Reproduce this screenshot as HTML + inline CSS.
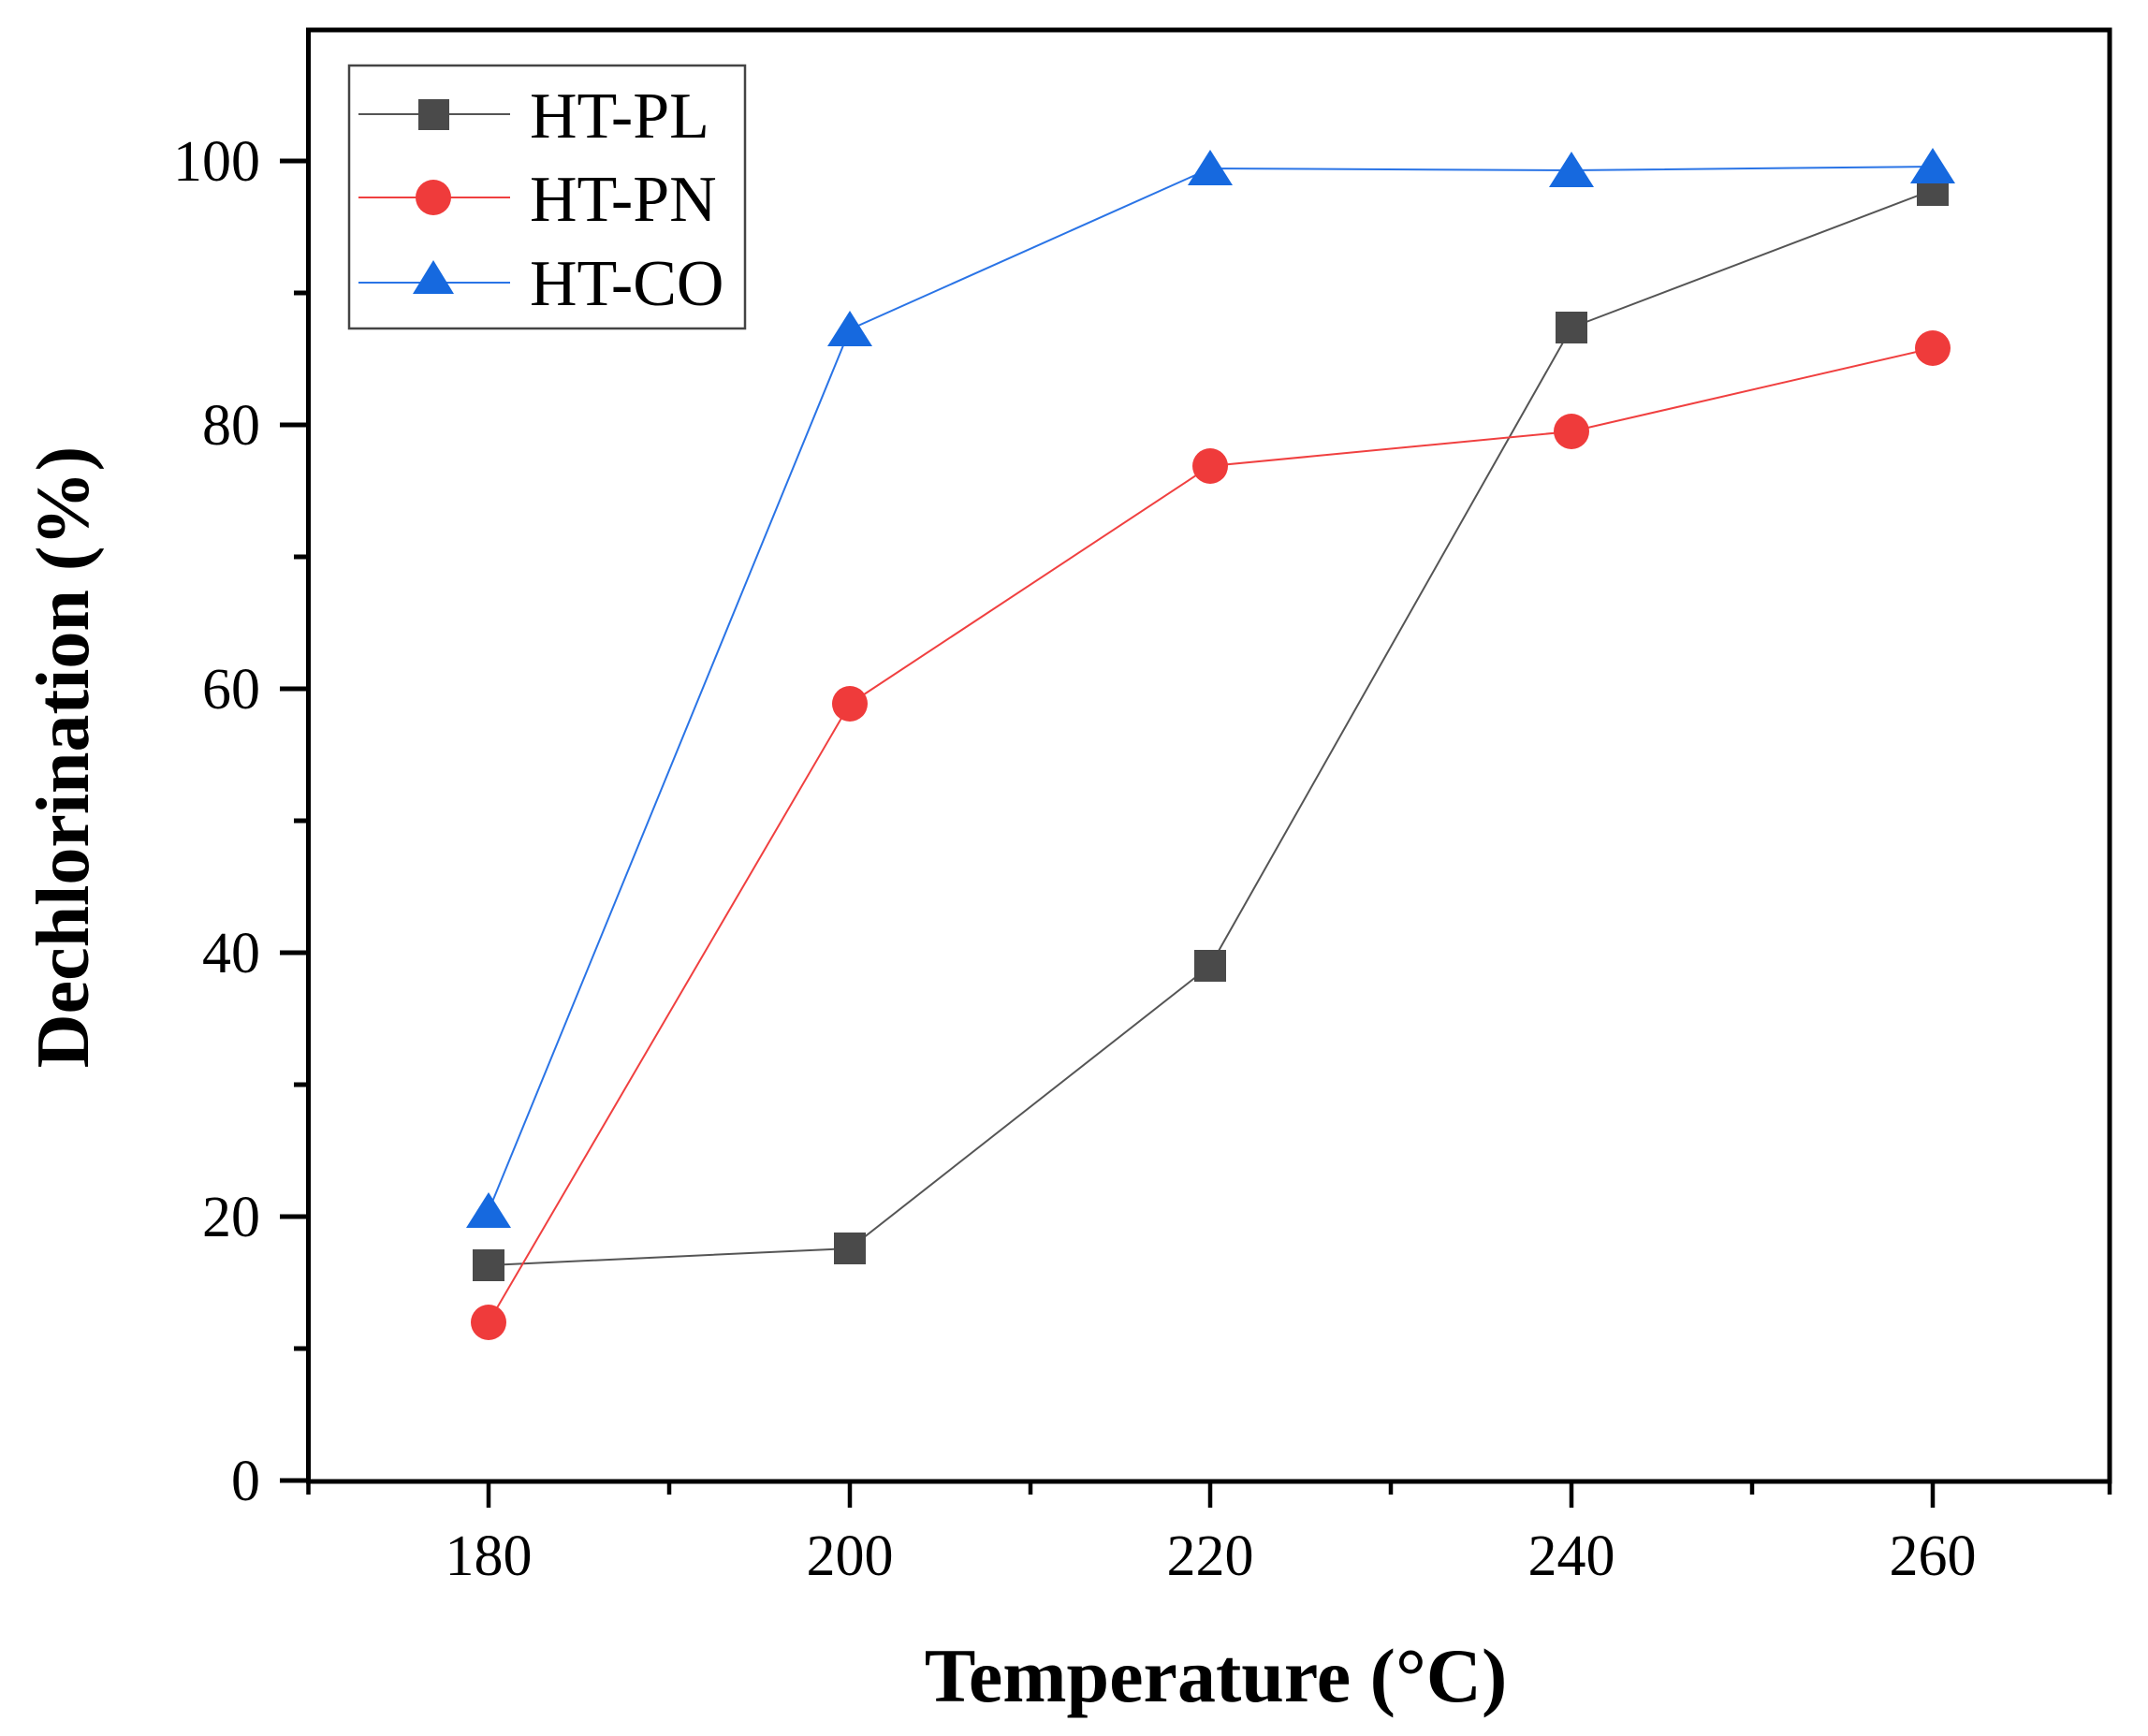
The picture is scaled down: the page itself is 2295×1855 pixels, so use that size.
<!DOCTYPE html>
<html><head><style>html,body{margin:0;padding:0;background:#fff}svg{display:block}</style></head>
<body>
<svg width="2295" height="1855" viewBox="0 0 2295 1855" xmlns="http://www.w3.org/2000/svg" font-family="Liberation Serif, serif">
<rect width="2295" height="1855" fill="#fff"/>
<g transform="translate(5,0)">
<rect x="324.5" y="32" width="1924.5" height="1551" fill="none" stroke="#000" stroke-width="5"/>
<g stroke="#000" stroke-width="5">
<line x1="294" y1="1582" x2="324" y2="1582"/><line x1="309" y1="1441" x2="324" y2="1441"/>
<line x1="294" y1="1300" x2="324" y2="1300"/><line x1="309" y1="1159" x2="324" y2="1159"/>
<line x1="294" y1="1018" x2="324" y2="1018"/><line x1="309" y1="877" x2="324" y2="877"/>
<line x1="294" y1="736" x2="324" y2="736"/><line x1="309" y1="595" x2="324" y2="595"/>
<line x1="294" y1="454" x2="324" y2="454"/><line x1="309" y1="313" x2="324" y2="313"/>
<line x1="294" y1="172" x2="324" y2="172"/>
</g>
<g stroke="#000" stroke-width="4.5">
<line x1="324.5" y1="1582" x2="324.5" y2="1597"/><line x1="517" y1="1582" x2="517" y2="1611"/>
<line x1="710" y1="1582" x2="710" y2="1597"/><line x1="903" y1="1582" x2="903" y2="1611"/>
<line x1="1096" y1="1582" x2="1096" y2="1597"/><line x1="1288" y1="1582" x2="1288" y2="1611"/>
<line x1="1481" y1="1582" x2="1481" y2="1597"/><line x1="1674" y1="1582" x2="1674" y2="1611"/>
<line x1="1867" y1="1582" x2="1867" y2="1597"/><line x1="2060" y1="1582" x2="2060" y2="1611"/>
<line x1="2249" y1="1582" x2="2249" y2="1597"/>
</g>
<g font-size="62" text-anchor="end">
<text x="273" y="1603">0</text><text x="273" y="1321">20</text><text x="273" y="1039">40</text>
<text x="273" y="757">60</text><text x="273" y="475">80</text><text x="273" y="193">100</text>
</g>
<g font-size="62" text-anchor="middle">
<text x="517" y="1683">180</text><text x="903" y="1683">200</text><text x="1288" y="1683">220</text>
<text x="1674" y="1683">240</text><text x="2060" y="1683">260</text>
</g>
<text x="1294" y="1818" font-size="82" font-weight="bold" text-anchor="middle">Temperature (°C)</text>
<polyline fill="none" stroke="#555" stroke-width="2" points="517,1352 903,1334 1288,1032 1674,350 2060,203"/>
<polyline fill="none" stroke="#f04040" stroke-width="2" points="517,1413 903,752 1288,498 1674,461 2060,372"/>
<polyline fill="none" stroke="#2a74e6" stroke-width="2" points="517,1294 903,352 1288,180 1674,182 2060,178"/>
<g fill="#4a4a4a">
<rect x="500" y="1335" width="34" height="34"/><rect x="886" y="1317" width="34" height="34"/>
<rect x="1271" y="1015" width="34" height="34"/><rect x="1657" y="333" width="34" height="34"/>
<rect x="2043" y="186" width="34" height="34"/>
</g>
<g fill="#ef3b3b">
<circle cx="517" cy="1413" r="19"/><circle cx="903" cy="752" r="19"/><circle cx="1288" cy="498" r="19"/>
<circle cx="1674" cy="461" r="19"/><circle cx="2060" cy="372" r="19"/>
</g>
<g fill="#1669df">
<polygon points="517,1274 493,1312 541,1312"/><polygon points="903,332 879,370 927,370"/>
<polygon points="1288,160 1264,198 1312,198"/><polygon points="1674,162 1650,200 1698,200"/>
<polygon points="2060,158 2036,196 2084,196"/>
</g>
</g>
<text transform="translate(94,809) rotate(-90)" font-size="80" font-weight="bold" text-anchor="middle">Dechlorination (%)</text>
<rect x="373" y="70" width="423" height="281" fill="#fff" stroke="#444" stroke-width="2.5"/>
<line x1="383" y1="122" x2="545" y2="122" stroke="#555" stroke-width="2"/>
<rect x="447" y="106" width="33" height="33" fill="#4a4a4a"/>
<line x1="383" y1="211" x2="545" y2="211" stroke="#f04040" stroke-width="2"/>
<circle cx="463" cy="211" r="19" fill="#ef3b3b"/>
<line x1="383" y1="302" x2="545" y2="302" stroke="#2a74e6" stroke-width="2"/>
<polygon points="463,278 441,314 485,314" fill="#1669df"/>
<g font-size="70">
<text x="566" y="147">HT-PL</text><text x="566" y="236">HT-PN</text><text x="566" y="326">HT-CO</text>
</g>
</svg>
</body></html>
